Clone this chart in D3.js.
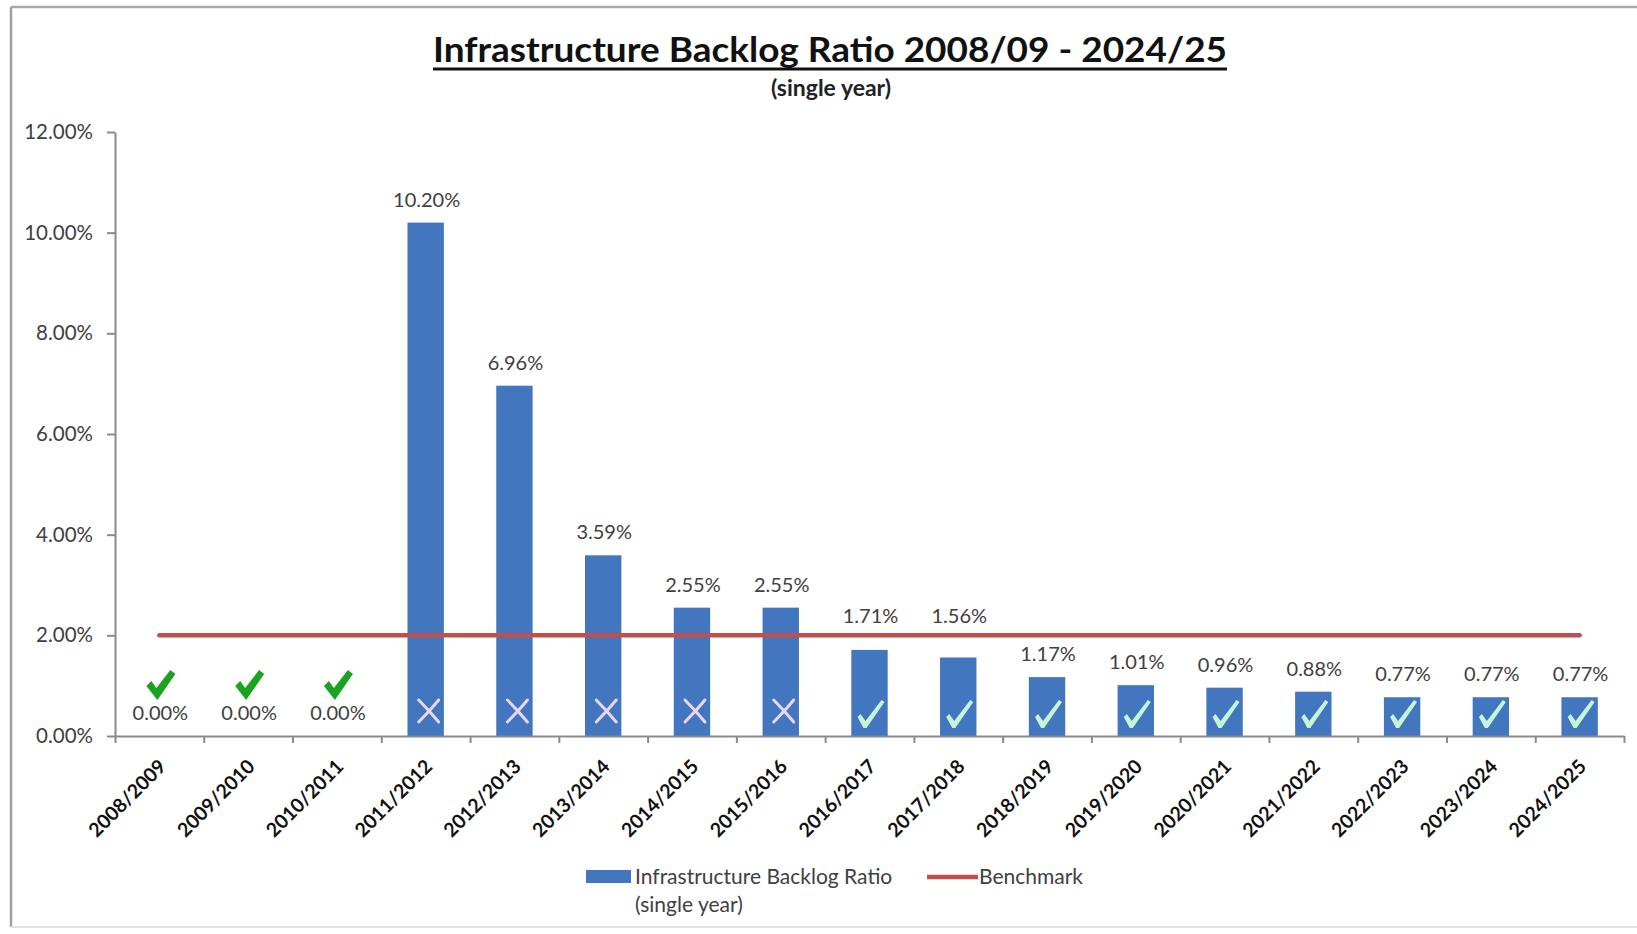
<!DOCTYPE html>
<html>
<head>
<meta charset="utf-8">
<script src="https://cdn.jsdelivr.net/npm/d3@7"></script>
<style>
  html, body { margin: 0; padding: 0; background: #fff; }
  svg { display: block; }
  text { font-family: Lato, "Open Sans", sans-serif; }
</style>
</head>
<body>
<svg id="chart" width="1637" height="934"></svg>
<script>
// Financial years shown on the category axis
const categories = [
  "2008/2009", "2009/2010", "2010/2011", "2011/2012", "2012/2013", "2013/2014",
  "2014/2015", "2015/2016", "2016/2017", "2017/2018", "2018/2019", "2019/2020",
  "2020/2021", "2021/2022", "2022/2023", "2023/2024", "2024/2025"
];
// Infrastructure backlog ratio (single year), percent
const backlogRatio = [
  0.00, 0.00, 0.00, 10.20, 6.96, 3.59, 2.55, 2.55, 1.71, 1.56,
  1.17, 1.01, 0.96, 0.88, 0.77, 0.77, 0.77
];
// Benchmark, percent
const benchmark = [
  2.00, 2.00, 2.00, 2.00, 2.00, 2.00, 2.00, 2.00, 2.00, 2.00,
  2.00, 2.00, 2.00, 2.00, 2.00, 2.00, 2.00
];
const yTickValues = [0, 2, 4, 6, 8, 10, 12];

const titleText = "Infrastructure Backlog Ratio 2008/09 - 2024/25";
const subtitleText = "(single year)";
const seriesNames = ["Infrastructure Backlog Ratio", "(single year)"];
const benchmarkName = "Benchmark";

const W = 1637, H = 934;
const plot = { left: 115, right: 1624, top: 132, bottom: 736 };

const colBar = "#4277c0";
const colBench = "#c0504d";
const colAxis = "#8a8a8a";
const colText = "#404040";

const svg = d3.select("#chart");

// Outer frame of the chart area
svg.append("line").attr("x1", 11).attr("x2", W).attr("y1", 7).attr("y2", 7)
  .attr("stroke", "#a8a8a8").attr("stroke-width", 2.5);
svg.append("line").attr("x1", 11).attr("x2", 11).attr("y1", 7).attr("y2", 927)
  .attr("stroke", "#a0a0a0").attr("stroke-width", 2.5);
svg.append("line").attr("x1", 11).attr("x2", W).attr("y1", 927).attr("y2", 927)
  .attr("stroke", "#e2e2e2").attr("stroke-width", 2);

// Scales
const x = d3.scaleBand().domain(categories)
  .range([plot.left, plot.right]).paddingInner(0.59).paddingOuter(0.295);
const xEdge = d3.scaleLinear().domain([0, categories.length])
  .range([plot.left, plot.right]);
const y = d3.scaleLinear().domain([0, 12]).range([plot.bottom, plot.top]);
const cx = d => x(d) + x.bandwidth() / 2;

// Title with underline
const title = svg.append("text")
  .attr("x", 830).attr("y", 62)
  .attr("text-anchor", "middle")
  .attr("font-weight", 700).attr("font-size", 35)
  .attr("textLength", 794).attr("lengthAdjust", "spacingAndGlyphs")
  .attr("fill", "#111")
  .text(titleText);
const tb = title.node().getBBox();
svg.append("line")
  .attr("x1", tb.x).attr("x2", tb.x + tb.width)
  .attr("y1", 69).attr("y2", 69)
  .attr("stroke", "#111").attr("stroke-width", 3);
svg.append("text")
  .attr("x", 831).attr("y", 96)
  .attr("text-anchor", "middle")
  .attr("font-weight", 700).attr("font-size", 23)
  .attr("fill", "#222")
  .text(subtitleText);

// Y axis
const yAxis = svg.append("g")
  .attr("transform", `translate(${plot.left},0)`)
  .call(d3.axisLeft(y).tickValues(yTickValues)
    .tickFormat(d => d.toFixed(2) + "%")
    .tickSize(8).tickSizeOuter(0).tickPadding(14));
yAxis.select(".domain").attr("stroke", colAxis).attr("stroke-width", 2);
yAxis.selectAll(".tick line").attr("stroke", colAxis).attr("stroke-width", 2);
yAxis.selectAll(".tick text")
  .attr("font-family", "Lato, sans-serif")
  .attr("font-size", 20.5).attr("fill", colText);

// Bars
svg.append("g").selectAll("rect")
  .data(categories)
  .join("rect")
  .attr("x", d => x(d))
  .attr("width", x.bandwidth())
  .attr("y", (d, i) => y(backlogRatio[i]))
  .attr("height", (d, i) => y(0) - y(backlogRatio[i]))
  .attr("fill", colBar);

// X axis with ticks on category boundaries
const xAxis = svg.append("g")
  .attr("transform", `translate(0,${plot.bottom})`)
  .call(d3.axisBottom(xEdge).tickValues(d3.range(categories.length + 1))
    .tickFormat("").tickSize(7).tickSizeOuter(0));
xAxis.select(".domain").attr("stroke", colAxis).attr("stroke-width", 2);
xAxis.selectAll(".tick line").attr("stroke", colAxis).attr("stroke-width", 2);

// Category labels, rotated
svg.append("g").selectAll("text")
  .data(categories)
  .join("text")
  .attr("transform", d => `translate(${cx(d) + 3},${plot.bottom + 27}) rotate(-45)`)
  .attr("text-anchor", "end")
  .attr("dy", "0.35em")
  .attr("font-weight", 700).attr("font-size", 19.5)
  .attr("fill", "#111")
  .text(d => d);

// Benchmark line
const benchLine = d3.line()
  .x((d, i) => cx(categories[i]))
  .y(d => y(d));
svg.append("path")
  .datum(benchmark)
  .attr("d", benchLine)
  .attr("fill", "none")
  .attr("stroke", colBench)
  .attr("stroke-width", 4.5)
  .attr("stroke-linecap", "round");

// Value labels above each bar; lifted clear of the benchmark line where they would cross it
const benchY = y(benchmark[0]);
svg.append("g").selectAll("text")
  .data(categories)
  .join("text")
  .attr("x", d => cx(d) + 1)
  .attr("y", (d, i) => {
    const base = y(backlogRatio[i]) - 16;
    return (base > benchY - 10 && base < benchY + 17) ? benchY - 12 : base;
  })
  .attr("text-anchor", "middle")
  .attr("font-size", 20)
  .attr("fill", colText)
  .text((d, i) => backlogRatio[i].toFixed(2) + "%");

// Pass / fail markers against the benchmark
const checkBold = "M0,16 L5,11 L10,18 L24,0 L29,4 L11,30 Z";
const checkThin = "M0,17 L3,14 L8,21 L24,0 L27,2 L9,28 L6,28 Z";
const marks = svg.append("g");
categories.forEach((c, i) => {
  const v = backlogRatio[i];
  const pass = v <= benchmark[i];
  if (v === 0) {
    marks.append("path").attr("d", checkBold)
      .attr("transform", `translate(${cx(c) - 13},${plot.bottom - 66})`)
      .attr("fill", "#1aa31f");
  } else if (pass) {
    marks.append("path").attr("d", checkThin)
      .attr("transform", `translate(${cx(c) - 12},${plot.bottom - 36})`)
      .attr("fill", "#c4f5d6");
  } else {
    const mx = cx(c) + 3, my = plot.bottom - 25;
    marks.append("path")
      .attr("d", `M${mx - 10},${my - 11} Q${mx},${my - 1} ${mx + 10},${my + 11} M${mx + 10},${my - 11} Q${mx + 1},${my} ${mx - 10},${my + 11}`)
      .attr("fill", "none")
      .attr("stroke", "#ead6f3")
      .attr("stroke-width", 3)
      .attr("stroke-linecap", "round");
  }
});

// Legend
const legend = svg.append("g");
legend.append("rect").attr("x", 586).attr("y", 870).attr("width", 45).attr("height", 13)
  .attr("fill", colBar);
legend.append("text").attr("x", 635).attr("y", 884)
  .attr("font-size", 21).attr("fill", colText).text(seriesNames[0]);
legend.append("text").attr("x", 635).attr("y", 912)
  .attr("font-size", 21).attr("fill", colText).text(seriesNames[1]);
legend.append("line").attr("x1", 927).attr("x2", 978).attr("y1", 877).attr("y2", 877)
  .attr("stroke", colBench).attr("stroke-width", 4.5);
legend.append("text").attr("x", 979).attr("y", 884)
  .attr("font-size", 21).attr("fill", colText).text(benchmarkName);
</script>
</body>
</html>
